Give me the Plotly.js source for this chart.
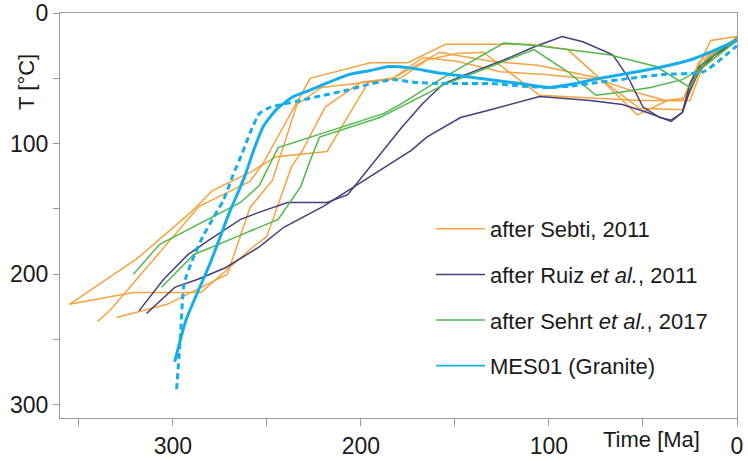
<!DOCTYPE html>
<html>
<head>
<meta charset="utf-8">
<script src="https://cdn.plot.ly/plotly-3.0.1.min.js"></script>
<style>html,body{margin:0;padding:0;background:#fff;}#chart{width:748px;height:461px;}</style>
</head>
<body>
<div id="chart"></div>
<script>
// Time [Ma] and T [°C]
const sebtiA_t = [355,321,285,259,250,237,231,219,200,183,167,149,126,102,73,53,38,25,17,0];
const sebtiA_T = [223,214,214,181,171,118,105,72,53,50,34,37,45,47,51,61,67,67,36,19];
const sebtiB_t = [355,319,290,279,259,245,218,196,179,165,149,135,105,78,52,29,20,0];
const sebtiB_T = [223,188,152,136,122,110,106,53,50,36,31,30,63,65,67,67,37,19];
const sebtiC_t = [340,333,286,259,252,227,195,175,155,110,90,73,53,37,28,14,0];
const sebtiC_T = [236,227,148,129,115,50,38,38,24,24,28,50,78,67,65,21,18];
const sebtiD_t = [330,303,271,259,247,234,221,197,183,158,131,106,73,52,29,20,0];
const sebtiD_T = [233,223,200,149,128,70,57,53,50,30,37,40,50,73,74,44,21];

const ruiz1_t = [318,305,292,281,264,255,239,218,207,188,178,167,156,144,124,108,93,82,66,58,50,41,35,29,25,20,14,7,0];
const ruiz1_T = [228,204,185,174,158,153,145,145,139,105,87,69,54,47,36,26,18,22,32,49,72,80,82,76,54,41,34,28,19];
const ruiz2_t = [314,299,287,272,254,241,220,206,173,165,147,131,105,78,61,48,35,29,25,20,12,0];
const ruiz2_T = [230,210,204,195,179,164,148,135,105,95,80,74,64,67,70,76,83,76,59,44,32,21];

const sehrt1_t = [321,307,264,254,244,227,188,179,158,140,124,106,90,68,43,25,18,0];
const sehrt1_T = [200,177,145,132,103,95,77,70,51,36,23,25,28,32,41,57,38,19];
const sehrt2_t = [306,289,264,244,232,227,222,190,179,156,131,108,90,75,64,46,29,18,0];
const sehrt2_T = [210,185,170,158,133,113,95,80,72,55,41,28,45,63,61,57,51,41,21];

const mesSolid_t = [299,293,280,270,262,257,252,245,236,227,217,206,195,185,174,158,137,115,100,86,73,57,39,25,11,0];
const mesSolid_T = [267,235,191,153,126,105,87,74,64,59,53,47,44,41,42,46,50,54,57,54,50,46,41,36,28,21];
const mesDot_t = [298,296,294,289,284,279,273,268,263,259,254,248,242,232,220,207,197,183,172,158,131,114,100,89,73,57,39,18,0];
const mesDot_T = [288,249,207,187,171,158,143,124,107,92,77,72,70,67,63,59,55,51,53,54,54,56,57,56,53,50,47,45,25];

const xTickVals = [350,300,250,200,150,100,50,0];
const xTickText = ['','300','','200','','100','','0'];
const yTickVals = [0,50,100,150,200,250,300];
const yTickText = ['0','','100','','200','','300'];

const names = ['after Sebti, 2011', 'after Ruiz <i>et al.</i>, 2011', 'after Sehrt <i>et al.</i>, 2017', 'MES01 (Granite)'];
const colors = ['#f6a240', '#433f7d', '#50b84d', '#14aeea'];

function line(t, T, g, show, extra) {
  return {
    x: t, y: T, type: 'scatter', mode: 'lines',
    name: names[g], legendgroup: 'g' + g, showlegend: show,
    line: Object.assign({color: colors[g], width: 1.5}, extra || {}),
    hoverinfo: 'skip'
  };
}

const data = [
  line(sebtiA_t, sebtiA_T, 0, true),
  line(sebtiB_t, sebtiB_T, 0, false),
  line(sebtiC_t, sebtiC_T, 0, false),
  line(sebtiD_t, sebtiD_T, 0, false),
  line(ruiz1_t, ruiz1_T, 1, true),
  line(ruiz2_t, ruiz2_T, 1, false),
  line(sehrt1_t, sehrt1_T, 2, true),
  line(sehrt2_t, sehrt2_T, 2, false),
  line(mesDot_t, mesDot_T, 3, false, {width: 3, dash: '6px,4px', shape: 'spline', smoothing: 0.5}),
  line(mesSolid_t, mesSolid_T, 3, false, {width: 3, shape: 'spline', smoothing: 0.5}),
  // legend key for MES01 (thin line in the legend, as in the reference)
  line([null], [null], 3, true, {width: 1.8})
];

const font = 'Liberation Sans, Arial, Helvetica, sans-serif';
const axisCommon = {
  ticks: 'outside', tickcolor: '#999', tickwidth: 1,
  showline: true, linecolor: '#9a9a9a', linewidth: 1, mirror: true,
  showgrid: false, zeroline: false,
  tickfont: {family: font, size: 23, color: '#1a1a1a'}
};

const layout = {
  width: 748, height: 461,
  margin: {l: 60, r: 11, t: 13, b: 43, pad: 0},
  paper_bgcolor: '#fff', plot_bgcolor: '#fff',
  font: {family: font, color: '#1a1a1a'},
  xaxis: Object.assign({}, axisCommon, {range: [360, 0], tickmode: 'array', tickvals: xTickVals, ticktext: xTickText, ticklen: 7}),
  yaxis: Object.assign({}, axisCommon, {range: [310, 0], tickmode: 'array', tickvals: yTickVals, ticktext: yTickText, ticklen: 6}),
  showlegend: true,
  legend: {
    x: 0.548, xanchor: 'left', y: 0.5185, yanchor: 'top',
    bgcolor: 'rgba(0,0,0,0)', borderwidth: 0,
    font: {family: font, size: 22, color: '#1a1a1a'},
    traceorder: 'grouped', tracegroupgap: 14, itemwidth: 49
  },
  annotations: [
    {text: 'T [°C]', xref: 'paper', yref: 'paper', x: -0.0487, y: 0.83, xanchor: 'center', yanchor: 'middle',
     textangle: -90, showarrow: false, font: {family: font, size: 22, color: '#1a1a1a'}},
    {text: 'Time [Ma]', xref: 'paper', yref: 'paper', x: 0.8744, y: -0.054, xanchor: 'center', yanchor: 'middle',
     showarrow: false, font: {family: font, size: 22, color: '#1a1a1a'}}
  ]
};

Plotly.newPlot('chart', data, layout, {displayModeBar: false, staticPlot: true});
</script>
</body>
</html>
